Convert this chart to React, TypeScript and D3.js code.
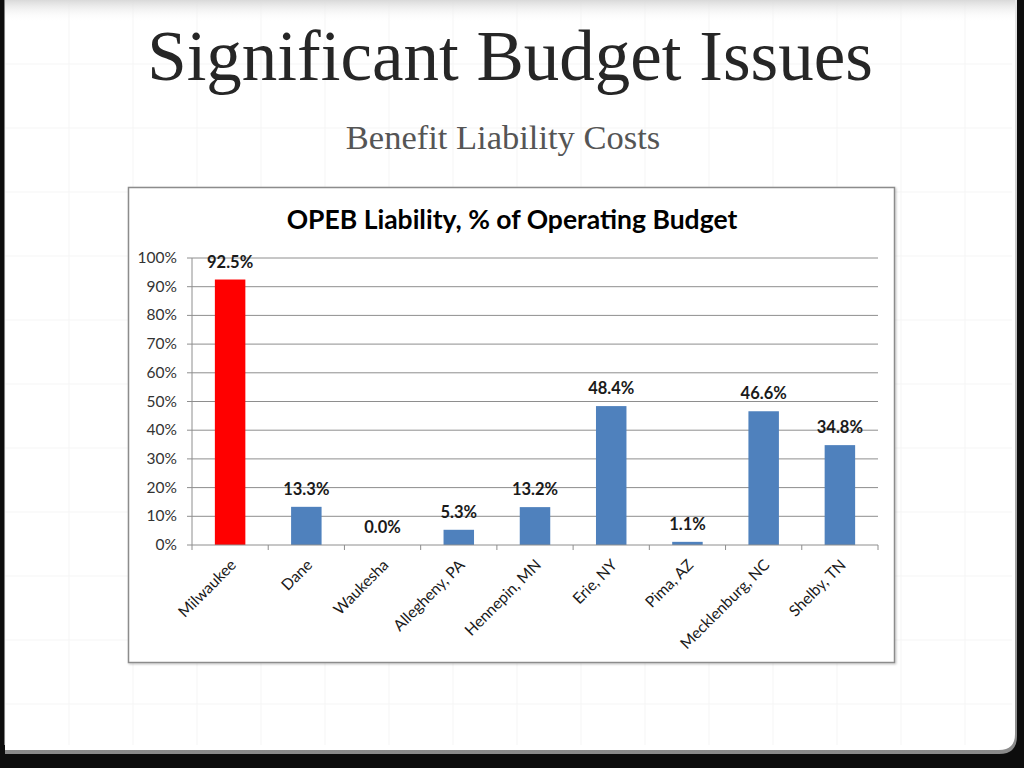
import React from "react";
import * as d3 from "d3";

const categories = ["Milwaukee", "Dane", "Waukesha", "Allegheny, PA", "Hennepin, MN", "Erie, NY", "Pima, AZ", "Mecklenburg, NC", "Shelby, TN"];
const values = [92.5, 13.3, 0.0, 5.3, 13.2, 48.4, 1.1, 46.6, 34.8];
const yTicks = [0, 10, 20, 30, 40, 50, 60, 70, 80, 90, 100];
const slideTitle = "Significant Budget Issues";
const slideSubtitle = "Benefit Liability Costs";
const chartTitle = "OPEB Liability, % of Operating Budget";

const W = 1024;
const H = 768;
const plot = { left: 192, right: 878, top: 258, bottom: 545 };

export default function App() {
  const x = d3.scaleBand<string>().domain(categories).range([plot.left, plot.right]).paddingInner(0.6).paddingOuter(0.3);
  const xOuter = d3.scaleBand<string>().domain(categories).range([plot.left, plot.right]);
  const y = d3.scaleLinear().domain([0, 100]).range([plot.bottom, plot.top]);
  const gridX = d3.range(0, W, 64);
  const gridY = d3.range(0, H, 64);

  return (
    <svg width={W} height={H} style={{ position: "absolute", left: 0, top: 0 }} xmlns="http://www.w3.org/2000/svg">
      <defs>
        <linearGradient id="topfade" x1="0" y1="0" x2="0" y2="1">
          <stop offset="0" stopColor="#d9d9d9" />
          <stop offset="1" stopColor="#ffffff" stopOpacity="0" />
        </linearGradient>
        <linearGradient id="bevel" x1="0" y1="0" x2="0" y2="1">
          <stop offset="0" stopColor="#e6e6e6" />
          <stop offset="1" stopColor="#8a8a8a" />
        </linearGradient>
        <filter id="shadow" x="-5%" y="-5%" width="110%" height="110%">
          <feDropShadow dx="1" dy="1" stdDeviation="1" floodColor="#000" floodOpacity="0.25" />
        </filter>
      </defs>
      <rect x={0} y={0} width={W} height={H} fill="#0d0d0d" />
      <path d={`M5,0 H1017 V736 Q1017,754 999,754 H5 Z`} fill="url(#bevel)" />
      <path d={`M5,0 H1015 V734 Q1015,750 999,750 H5 Z`} fill="#ffffff" />
      <g stroke="#f5f5f5" strokeWidth={1}>
        {gridX.map((gx) => (
          <line key={"gx" + gx} x1={gx + 5} x2={gx + 5} y1={0} y2={745} />
        ))}
        {gridY.map((gy) => (
          <line key={"gy" + gy} x1={5} x2={1012} y1={gy} y2={gy} />
        ))}
      </g>
      <rect x={5} y={0} width={1010} height={22} fill="url(#topfade)" />

      <text x={510} y={80} textAnchor="middle" fontFamily="Liberation Serif, serif" fontSize={71} fill="#262626">
        {slideTitle}
      </text>
      <text x={503} y={149} textAnchor="middle" fontFamily="Liberation Serif, serif" fontSize={34.5} fill="#555555">
        {slideSubtitle}
      </text>

      <rect x={128.5} y={187.5} width={766} height={475} fill="#ffffff" stroke="#8c8c8c" strokeWidth={1.5} filter="url(#shadow)" />

      <text x={512} y={229} textAnchor="middle" fontFamily="Lato, sans-serif" fontWeight="bold" fontSize={26.5} fill="#000">
        {chartTitle}
      </text>

      <g>
        {yTicks.map((t) => (
          <g key={"yt" + t}>
            {t > 0 && <line x1={plot.left} x2={plot.right} y1={y(t)} y2={y(t)} stroke="#8e8e8e" strokeWidth={1} />}
            <line x1={plot.left - 5} x2={plot.left} y1={y(t)} y2={y(t)} stroke="#8e8e8e" strokeWidth={1} />
            <text x={177} y={y(t) + 5} textAnchor="end" fontFamily="Lato, sans-serif" fontSize={15.5} fill="#333">
              {t}%
            </text>
          </g>
        ))}
      </g>

      {categories.map((c, i) => (
        <rect key={"bar" + c} x={x(c)} y={y(values[i])} width={x.bandwidth()} height={y(0) - y(values[i])} fill={i === 0 ? "#ff0000" : "#4f81bd"} />
      ))}

      <line x1={plot.left} x2={plot.left} y1={plot.top} y2={plot.bottom} stroke="#8e8e8e" strokeWidth={1} />
      <line x1={plot.left} x2={plot.right} y1={plot.bottom} y2={plot.bottom} stroke="#8e8e8e" strokeWidth={1} />
      {categories.map((c) => (
        <line key={"xt" + c} x1={xOuter(c)} x2={xOuter(c)} y1={plot.bottom} y2={plot.bottom + 5} stroke="#8e8e8e" strokeWidth={1} />
      ))}
      <line x1={plot.right} x2={plot.right} y1={plot.bottom} y2={plot.bottom + 5} stroke="#8e8e8e" strokeWidth={1} />

      {categories.map((c, i) => (
        <text key={"lbl" + c} x={x(c)! + x.bandwidth() / 2} y={y(values[i]) - 12} textAnchor="middle" fontFamily="Lato, sans-serif" fontWeight="bold" fontSize={16.5} fill="#1a1a1a">
          {values[i].toFixed(1)}%
        </text>
      ))}

      {categories.map((c) => {
        const cx = x(c)! + x.bandwidth() / 2 + 7;
        const cy = plot.bottom + 21;
        return (
          <text key={"xl" + c} x={cx} y={cy} textAnchor="end" transform={`rotate(-45 ${cx} ${cy})`} fontFamily="Lato, sans-serif" fontSize={15.5} fill="#1a1a1a">
            {c}
          </text>
        );
      })}
    </svg>
  );
}
